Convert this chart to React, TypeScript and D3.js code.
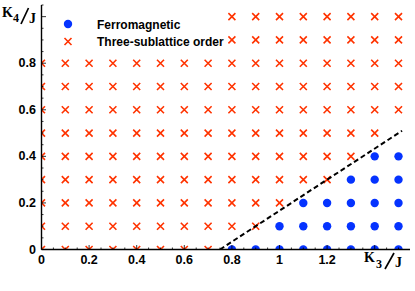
import React from "react";
import * as d3 from "d3";

const K4_ROWS = [0, 0.1, 0.2, 0.3, 0.4, 0.5, 0.6, 0.7, 0.8, 0.9, 1.0];
const FERRO_K3: number[][] = [
  [0.8, 0.9, 1.0, 1.1, 1.2, 1.3, 1.4, 1.5],
  [1.0, 1.1, 1.2, 1.3, 1.4, 1.5],
  [1.1, 1.2, 1.3, 1.4, 1.5],
  [1.3, 1.4, 1.5],
  [1.4, 1.5],
  [], [], [], [], [], [],
];
const THREE_K3: number[][] = [
  [0, 0.1, 0.2, 0.3, 0.4, 0.5, 0.6, 0.7],
  [0, 0.1, 0.2, 0.3, 0.4, 0.5, 0.6, 0.7, 0.8, 0.9],
  [0, 0.1, 0.2, 0.3, 0.4, 0.5, 0.6, 0.7, 0.8, 0.9, 1.0],
  [0, 0.1, 0.2, 0.3, 0.4, 0.5, 0.6, 0.7, 0.8, 0.9, 1.0, 1.1, 1.2],
  [0, 0.1, 0.2, 0.3, 0.4, 0.5, 0.6, 0.7, 0.8, 0.9, 1.0, 1.1, 1.2, 1.3],
  [0, 0.1, 0.2, 0.3, 0.4, 0.5, 0.6, 0.7, 0.8, 0.9, 1.0, 1.1, 1.2, 1.3, 1.4],
  [0, 0.1, 0.2, 0.3, 0.4, 0.5, 0.6, 0.7, 0.8, 0.9, 1.0, 1.1, 1.2, 1.3, 1.4, 1.5],
  [0, 0.1, 0.2, 0.3, 0.4, 0.5, 0.6, 0.7, 0.8, 0.9, 1.0, 1.1, 1.2, 1.3, 1.4, 1.5],
  [0, 0.1, 0.2, 0.3, 0.4, 0.5, 0.6, 0.7, 0.8, 0.9, 1.0, 1.1, 1.2, 1.3, 1.4, 1.5],
  [0.8, 0.9, 1.0, 1.1, 1.2, 1.3, 1.4, 1.5],
  [0.8, 0.9, 1.0, 1.1, 1.2, 1.3, 1.4, 1.5],
];
const BOUNDARY_K3 = [0.75, 1.515];
const BOUNDARY_K4 = [0, 0.51];
const X_TICK_LABELS = [0, 0.2, 0.4, 0.6, 0.8, 1, 1.2];
const Y_TICK_LABELS = [0, 0.2, 0.4, 0.6, 0.8];
const LEGEND = ["Ferromagnetic", "Three-sublattice order"];

const BLUE = "#0533ff";
const RED = "#ff3300";

const W = 415, H = 291;
const X0 = 41.5, X1 = 410, Y0 = 249.5, Y1 = 5;

export default function App() {
  const x = d3.scaleLinear().domain([0, (X1 - X0) / 238]).range([X0, X1]);
  const y = d3.scaleLinear().domain([0, 1.05]).range([Y0, Y1]);

  const ferro: [number, number][] = [];
  FERRO_K3.forEach((row, i) => row.forEach((k3) => ferro.push([k3, K4_ROWS[i]])));
  const three: [number, number][] = [];
  THREE_K3.forEach((row, i) => row.forEach((k3) => three.push([k3, K4_ROWS[i]])));

  const minorX = d3.range(0, 1.5001, 0.05);
  const minorY = d3.range(0, 1.0501, 0.05);
  const line = d3.line<number>().x((_, i) => x(BOUNDARY_K3[i])).y((_, i) => y(BOUNDARY_K4[i]));

  const cross = (cx: number, cy: number, key: string | number, s = 3.5) => (
    <path
      key={key}
      d={`M${cx - s},${cy - s}L${cx + s},${cy + s}M${cx - s},${cy + s}L${cx + s},${cy - s}`}
      stroke={RED}
      strokeWidth={1.6}
      fill="none"
    />
  );

  const labelFont = "'Liberation Sans', Arial, sans-serif";
  const serif = "'Liberation Serif', 'Times New Roman', serif";

  return (
    <svg width={W} height={H} style={{ position: "absolute", left: 0, top: 0, background: "#fff" }}>
      <defs>
        <clipPath id="plot">
          <rect x={X0} y={Y1} width={X1 - X0} height={Y0 - Y1} />
        </clipPath>
      </defs>
      <g clipPath="url(#plot)">
        {three.map(([a, b], i) => cross(x(a), y(b), "t" + i))}
        {ferro.map(([a, b], i) => (
          <circle key={"f" + i} cx={x(a)} cy={y(b)} r={4.2} fill={BLUE} />
        ))}
        <path d={line(BOUNDARY_K3) || ""} stroke="#000" strokeWidth={2} strokeDasharray="5,3" fill="none" />
      </g>
      <line x1={X0} x2={X1} y1={Y0} y2={Y0} stroke="#000" strokeWidth={1.4} />
      <line x1={X0} x2={X0} y1={Y1} y2={Y0} stroke="#000" strokeWidth={1.4} />
      {minorX.map((v, i) => {
        const major = Math.abs(v / 0.2 - Math.round(v / 0.2)) < 1e-6;
        return <line key={"mx" + i} x1={x(v)} x2={x(v)} y1={Y0} y2={Y0 - (major ? 4.5 : 2)} stroke="#000" strokeWidth={0.8} />;
      })}
      {minorY.map((v, i) => {
        const major = Math.abs(v / 0.2 - Math.round(v / 0.2)) < 1e-6;
        return <line key={"my" + i} x1={X0} x2={X0 + (major ? 4.5 : 2)} y1={y(v)} y2={y(v)} stroke="#000" strokeWidth={0.8} />;
      })}
      {X_TICK_LABELS.map((v) => (
        <text key={"xl" + v} x={x(v)} y={264} textAnchor="middle" fontFamily={labelFont} fontWeight="bold" fontSize={12.5}>
          {String(v)}
        </text>
      ))}
      {Y_TICK_LABELS.map((v) => (
        <text key={"yl" + v} x={36} y={y(v) + 4} textAnchor="end" fontFamily={labelFont} fontWeight="bold" fontSize={12.5}>
          {String(v)}
        </text>
      ))}
      <g fontFamily={serif} fontWeight="bold">
        <text x={2} y={17} fontSize={14}>K</text>
        <text x={13} y={22} fontSize={12}>4</text>
        <line x1={21} y1={24} x2={28.5} y2={8} stroke="#000" strokeWidth={1.7} />
        <text x={29} y={23} fontSize={14}>J</text>

        <text x={364} y={262} fontSize={14}>K</text>
        <text x={376} y={268} fontSize={12}>3</text>
        <line x1={385} y1={269} x2={394} y2={253} stroke="#000" strokeWidth={1.7} />
        <text x={395} y={267} fontSize={14}>J</text>
      </g>
      <circle cx={68} cy={24} r={4.2} fill={BLUE} />
      {cross(68, 41.5, "lg")}
      <text x={97} y={29} fontFamily={labelFont} fontWeight="bold" fontSize={12}>{LEGEND[0]}</text>
      <text x={97} y={46} fontFamily={labelFont} fontWeight="bold" fontSize={12}>{LEGEND[1]}</text>
    </svg>
  );
}
